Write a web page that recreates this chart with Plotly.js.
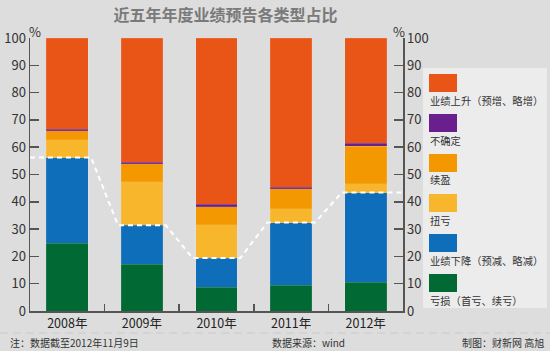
<!DOCTYPE html>
<html><head><meta charset="utf-8">
<script src="https://cdn.plot.ly/plotly-3.0.1.min.js"></script>
<style>html,body{margin:0;padding:0;background:#dddddd;}#chart{width:550px;height:351px;}</style>
</head><body><div id="chart"></div>
<script>
const years = ['2008年','2009年','2010年','2011年','2012年'];
const seriesNames = ['亏损（首亏、续亏）','业绩下降（预减、略减）','扭亏','续盈','不确定','业绩上升（预增、略增）'];
const loss = [24.8, 17.1, 8.7, 9.5, 10.5];
const decline = [31.4, 14.3, 10.7, 22.9, 32.9];
const turnaround = [6.5, 16.0, 12.2, 5.0, 3.2];
const continuedProfit = [3.3, 6.6, 6.6, 7.3, 13.7];
const uncertain = [0.5, 0.4, 0.9, 0.7, 1.2];
const rise = [33.5, 45.6, 60.9, 54.6, 38.5];
const colors = ['#006934','#0F6EB9','#F8B62D','#F39800','#6A1F8F','#E95516'];
const yTicks = [0,10,20,30,40,50,60,70,80,90,100];

const seriesData = [loss, decline, turnaround, continuedProfit, uncertain, rise];
const FONT = '"Noto Sans CJK SC", "Noto Sans", sans-serif';

const traces = seriesData.map((vals, i) => ({
  type: 'bar', x: years, y: vals, name: seriesNames[i],
  marker: {color: colors[i], line: {color: 'rgba(255,255,255,0.2)', width: 0.5}},
  hoverinfo: 'skip', xaxis: 'x', yaxis: 'y'
}));

// dashed line along the top of the "decline" segments (loss + decline)
const lineX = [], lineY = [];
const hw = 0.32;
years.forEach((_, i) => {
  const v = loss[i] + decline[i];
  lineX.push(i === 0 ? -0.5 : i - hw);
  lineY.push(v);
  lineX.push(i === years.length - 1 ? years.length - 0.5 : i + hw);
  lineY.push(v);
});
traces.push({
  type: 'scatter', mode: 'lines', x: lineX, y: lineY,
  line: {color: '#ffffff', width: 2, dash: '5px,4px'},
  xaxis: 'x2', yaxis: 'y2', hoverinfo: 'skip', showlegend: false
});

// manual legend (swatch above text), pixel -> paper conversions
const L = 30, R = 147, T = 38, B = 40, W = 550, H = 351;
const pw = W - L - R, ph = H - T - B;
const px = x => (x - L) / pw;
const py = y => (H - B - y) / ph;

const shapes = [];
const annotations = [];
// legend panel
shapes.push({type: 'rect', xref: 'paper', yref: 'paper', x0: px(423), x1: px(547), y0: py(308), y1: py(68),
  fillcolor: '#ececec', line: {width: 0}, layer: 'below'});
const legendOrder = [5,4,3,2,1,0];
legendOrder.forEach((si, k) => {
  const top = 74 + 40 * k;
  shapes.push({type: 'rect', xref: 'paper', yref: 'paper', x0: px(429), x1: px(457), y0: py(top + 18), y1: py(top),
    fillcolor: colors[si], line: {width: 0}});
  annotations.push({xref: 'paper', yref: 'paper', x: px(428), y: py(top + 26), xanchor: 'left', yanchor: 'middle',
    text: seriesNames[si], showarrow: false, font: {family: FONT, size: 10.3, color: '#333'}});
});
// footer separator
shapes.push({type: 'line', xref: 'paper', yref: 'paper', x0: px(0), x1: px(550), y0: py(333), y1: py(333),
  line: {color: '#cacaca', width: 1, dash: '8px,5px'}});
// % labels
annotations.push({xref: 'paper', yref: 'paper', x: px(35), y: py(31), text: '%', showarrow: false,
  font: {family: FONT, size: 13, color: '#333'}, xanchor: 'center', yanchor: 'middle'});
annotations.push({xref: 'paper', yref: 'paper', x: px(399), y: py(31), text: '%', showarrow: false,
  font: {family: FONT, size: 13, color: '#333'}, xanchor: 'center', yanchor: 'middle'});
// footer texts
annotations.push({xref: 'paper', yref: 'paper', x: px(8), y: py(342), text: '注：数据截至2012年11月9日', showarrow: false,
  font: {family: FONT, size: 10, color: '#333'}, xanchor: 'left', yanchor: 'middle'});
annotations.push({xref: 'paper', yref: 'paper', x: px(270), y: py(342), text: '数据来源：wind', showarrow: false,
  font: {family: FONT, size: 10, color: '#333'}, xanchor: 'left', yanchor: 'middle'});
annotations.push({xref: 'paper', yref: 'paper', x: px(546), y: py(342), text: '制图：财新网 高旭', showarrow: false,
  font: {family: FONT, size: 10, color: '#333'}, xanchor: 'right', yanchor: 'middle'});

const yAxisBase = {
  range: [0, 100], tickvals: yTicks, ticks: 'inside', ticklen: 9, tickwidth: 1.5, tickcolor: '#555',
  showline: true, linecolor: '#555', linewidth: 1.5, showgrid: false, zeroline: false,
  tickfont: {family: FONT, size: 13, color: '#333'}, fixedrange: true
};

const layout = {
  width: W, height: H,
  margin: {l: L, r: R, t: T, b: B, pad: 0},
  paper_bgcolor: '#dddddd', plot_bgcolor: '#dddddd',
  barmode: 'stack', bargap: 0.44,
  showlegend: false,
  title: {text: '近五年年度业绩预告各类型占比', x: 0.41, xanchor: 'center', y: 0.955, yanchor: 'middle',
    font: {family: FONT, size: 16, color: '#7a7a7a', weight: 'bold'}},
  xaxis: {type: 'category', tickson: 'boundaries', ticks: 'inside', ticklen: 7, tickwidth: 1.5, tickcolor: '#555',
    showline: true, linecolor: '#555', linewidth: 1.5, showgrid: false,
    tickfont: {family: FONT, size: 12.5, color: '#222'}, fixedrange: true},
  xaxis2: {overlaying: 'x', range: [-0.5, years.length - 0.5], visible: false, fixedrange: true},
  yaxis: Object.assign({}, yAxisBase, {side: 'left'}),
  yaxis2: Object.assign({}, yAxisBase, {side: 'right', overlaying: 'y'}),
  shapes: shapes, annotations: annotations
};

Plotly.newPlot('chart', traces, layout, {displayModeBar: false, staticPlot: true});
</script>
</body></html>
